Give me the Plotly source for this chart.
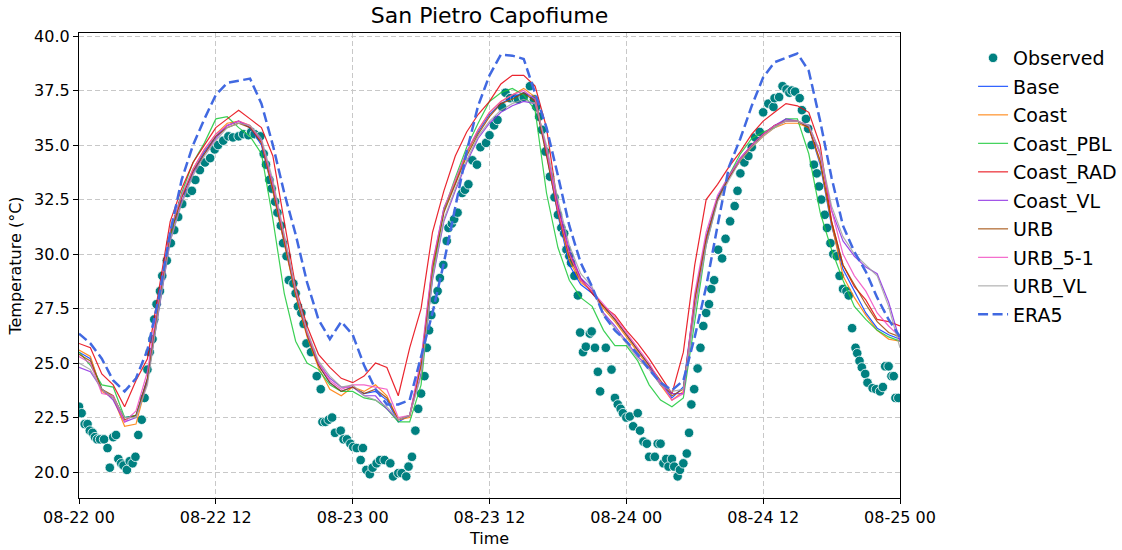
import pandas as pd
import plotly.graph_objects as go

START = pd.Timestamp("2021-08-22 00:00")

# ---------------- Observed (hours since 08-22 00, temperature) ----------------
obs_hours = [0.0, 0.23, 0.5, 0.75, 0.95, 1.2, 1.4, 1.6, 1.85, 2.2, 2.5, 2.7, 3.0, 3.25, 3.45, 3.7, 3.9, 4.2, 4.45, 4.7,
             4.95, 5.2, 5.5, 5.75, 6.0, 6.2, 6.45, 6.6, 6.8, 7.1, 7.3, 7.7, 8.05, 8.35, 8.7, 9.05, 9.5, 9.9, 10.2, 10.6,
             11.05, 11.5, 11.9, 12.2, 12.65, 13.1, 13.5, 14.0, 14.4, 14.85, 15.1, 15.4, 15.9, 16.2, 16.4, 16.7, 16.9,
             17.2, 17.4, 17.7, 17.9, 18.2, 18.4, 18.8, 19.0, 19.2, 19.5, 19.7, 19.95, 20.35, 20.85, 21.2, 21.35, 21.6,
             21.9, 22.2, 22.45, 22.95, 23.2, 23.5, 23.8, 24.05, 24.35, 24.7, 24.9, 25.2, 25.5, 25.75, 26.1, 26.4, 26.8,
             27.3, 27.55, 28.0, 28.3, 28.7, 28.9, 29.2, 29.5, 29.75, 30.0, 30.3, 30.5, 30.7, 30.9, 31.2, 31.45, 31.65,
             31.95, 32.25, 32.4, 32.7, 32.9, 33.2, 33.6, 33.85, 34.15, 34.5, 34.9, 35.2, 35.7, 36.0, 36.4, 36.7, 37.1,
             37.4, 37.8, 38.25, 38.5, 39.0, 39.55, 39.9, 40.1, 40.35, 40.6, 40.9, 41.3, 41.7, 42.0, 42.3, 42.55, 42.75,
             43.0, 43.15, 43.45, 43.75, 43.95, 44.2, 44.45, 44.8, 44.96, 45.25, 45.5, 45.7, 46.2, 46.7, 47.0, 47.25,
             47.5, 47.7, 48.0, 48.3, 48.6, 49.0, 49.2, 49.5, 49.8, 50.0, 50.5, 50.75, 51.0, 51.25, 51.5, 51.7, 52.0,
             52.2, 52.5, 52.7, 53.0, 53.3, 53.5, 53.7, 53.95, 54.25, 54.5, 54.75, 55.0, 55.25, 55.45, 55.7, 56.05,
             56.4, 56.7, 57.1, 57.5, 57.75, 58.0, 58.35, 58.7, 59.0, 59.3, 59.7, 60.0, 60.45, 60.9, 61.0, 61.4, 61.7,
             62.05, 62.3, 62.5, 62.8, 63.2, 63.4, 63.75, 63.95, 64.25, 64.45, 64.7, 64.9, 65.1, 65.4, 65.6, 65.9,
             66.15, 66.45, 66.7, 67.0, 67.3, 67.5, 67.8, 68.1, 68.25, 68.45, 68.65, 68.95, 69.15, 69.6, 69.9, 70.25,
             70.5, 70.7, 71.0, 71.25, 71.45, 71.6, 71.85]
obs_temp = [23.0, 22.7, 22.2, 22.2, 21.9, 21.8, 21.6, 21.5, 21.5, 21.5, 21.1, 20.2, 21.6, 21.7, 20.6, 20.4, 20.3, 20.1,
            20.5, 20.4, 20.7, 21.7, 22.4, 23.4, 24.7, 25.5, 26.1, 27.0, 27.7, 28.3, 29.0, 29.7, 30.5, 31.1, 31.7, 32.3,
            32.8, 32.9, 33.4, 33.85, 34.2, 34.4, 34.8, 35.0, 35.2, 35.4, 35.35, 35.4, 35.5, 35.45, 35.6, 35.5, 35.4,
            34.6, 34.1, 33.4, 33.0, 32.4, 31.9, 31.3, 30.5, 29.9, 28.8, 28.65, 28.2, 27.6, 27.3, 26.8, 25.9, 25.5,
            24.4, 23.8, 22.3, 22.3, 22.4, 22.5, 21.8, 21.9, 21.5, 21.5, 21.3, 21.15, 21.1, 20.55, 21.1, 20.1, 19.9,
            20.2, 20.4, 20.55, 20.55, 20.4, 19.8, 19.95, 19.95, 19.8, 20.25, 20.7, 21.9, 22.9, 23.6, 24.4, 25.7, 26.5,
            27.2, 27.9, 28.3, 28.9, 29.5, 30.6, 31.2, 31.4, 31.6, 31.9, 32.8, 32.95, 33.2, 34.3, 34.1, 34.9, 35.1,
            35.45, 35.9, 36.15, 36.75, 37.4, 37.15, 37.15, 37.1, 37.2, 37.7, 37.1, 36.75, 36.3, 35.7, 34.7, 33.55,
            32.6, 31.8, 31.2, 30.95, 30.2, 29.9, 29.6, 29.0, 28.1, 26.4, 25.5, 25.75, 26.35, 26.45, 25.7, 24.6, 23.7,
            25.7, 24.7, 23.4, 23.1, 22.9, 22.7, 22.5, 22.55, 22.1, 22.7, 21.9, 21.4, 21.3, 20.7, 20.7, 21.3, 21.3,
            20.4, 20.6, 20.25, 20.6, 20.25, 19.8, 20.1, 20.4, 20.85, 21.8, 23.1, 23.8, 24.75, 25.7, 26.7, 27.3, 27.7,
            28.4, 28.8, 30.2, 29.8, 30.7, 31.5, 32.2, 32.9, 33.7, 34.2, 34.5, 34.9, 35.35, 35.6, 36.5, 36.9, 36.75,
            37.15, 37.2, 37.7, 37.55, 37.4, 37.5, 37.45, 37.15, 36.6, 36.2, 35.75, 35.0, 34.1, 33.7, 33.1, 32.5, 31.8,
            31.2, 30.5, 30.0, 29.9, 29.0, 28.4, 28.3, 28.1, 26.6, 25.7, 25.45, 25.1, 24.8, 24.5, 24.1, 23.85, 23.8,
            23.7, 23.9, 24.85, 24.85, 24.4, 24.4, 23.4, 23.4]

# ---------------- Model runs, hourly from 08-22 00 to 08-25 00 ----------------
model_hours = list(range(0, 73))

base = [25.5, 25.2, 23.8, 23.4, 22.5, 22.6, 24.3, 27.9, 30.9, 32.6, 33.8, 34.7, 35.4, 35.9, 36.1, 35.8, 35.0, 32.9,
        30.5, 28.2, 26.3, 24.9, 24.1, 23.7, 23.9, 23.6, 23.7, 23.3, 22.3, 22.6, 25.0, 29.5, 32.1, 33.25, 34.7, 35.6,
        36.4, 36.9, 37.2, 37.4, 37.15, 34.6, 31.8, 29.5, 28.6, 28.2, 27.6, 27.0, 26.3, 25.6, 24.9, 24.1, 23.4, 23.9,
        28.0, 30.8, 32.6, 33.6, 34.4, 35.0, 35.5, 35.9, 36.1, 36.1, 35.8, 34.1, 31.3, 29.3, 28.3, 27.3, 26.6, 26.3, 26.1]
coast = [25.6, 25.3, 23.7, 23.4, 22.1, 22.2, 24.2, 27.8, 30.8, 32.6, 33.9, 34.8, 35.5, 36.0, 36.1, 35.9, 35.1, 32.9,
         30.5, 28.1, 26.2, 24.8, 23.8, 23.5, 23.9, 23.7, 24.0, 23.5, 22.4, 22.5, 24.9, 29.4, 32.0, 33.3, 34.6, 35.7,
         36.5, 37.0, 37.3, 37.6, 37.2, 34.7, 31.9, 29.7, 28.7, 28.3, 27.5, 26.9, 26.2, 25.5, 24.8, 24.0, 23.3, 23.7,
         27.9, 30.7, 32.5, 33.5, 34.3, 34.9, 35.4, 35.8, 36.0, 36.0, 35.8, 34.2, 31.4, 29.0, 28.0, 27.2, 26.5, 26.1, 26.0]
coast_pbl = [25.5, 24.9, 24.0, 23.9, 22.5, 22.6, 24.2, 27.6, 30.8, 32.8, 34.2, 35.1, 36.2, 36.3, 35.8, 35.4, 34.6,
             31.6, 28.2, 26.0, 25.0, 24.7, 24.0, 23.7, 23.7, 23.4, 23.3, 22.9, 22.3, 22.3, 24.0, 29.0, 32.0, 33.5,
             34.9, 36.0, 37.0, 37.4, 37.6, 37.3, 36.6, 32.8, 30.3, 28.8, 28.0, 27.6, 26.5, 25.8, 25.8, 25.1, 24.0,
             23.3, 23.0, 23.4, 27.0, 30.4, 32.5, 33.6, 34.6, 35.3, 35.6, 35.8, 36.2, 36.2, 34.6, 31.9, 30.2, 28.8,
             27.6, 27.0, 26.5, 26.2, 26.0]
coast_rad = [25.9, 25.7, 24.5, 24.0, 23.0, 24.2, 25.2, 28.4, 31.5, 33.0, 34.2, 35.0, 35.8, 36.2, 36.6, 36.2, 35.8,
             34.5, 31.5, 28.5, 26.7, 25.4, 24.8, 24.3, 24.1, 24.4, 25.0, 24.8, 23.5, 25.7, 27.5, 31.0, 32.9, 34.5,
             35.6, 36.4, 37.0, 37.8, 38.2, 38.2, 37.7, 35.8, 32.2, 30.0, 28.9, 28.2, 27.6, 27.2, 26.5, 25.9, 25.2,
             24.4, 23.6, 25.5, 29.5, 32.5, 33.2, 34.0, 34.7, 35.5, 36.1, 36.5, 36.9, 36.8, 36.5, 35.0, 31.5, 29.5,
             28.5, 27.9, 27.0, 26.9, 26.7]
coast_vl = [24.8, 24.6, 23.8, 23.3, 22.3, 22.5, 24.2, 27.5, 30.6, 32.4, 33.7, 34.6, 35.3, 35.9, 36.1, 35.8, 35.2,
            33.2, 30.7, 28.3, 26.4, 25.0, 24.3, 23.9, 23.9, 23.5, 23.5, 22.9, 22.4, 22.6, 24.5, 28.8, 31.5, 32.9,
            34.2, 35.3, 36.0, 36.5, 36.8, 37.0, 36.9, 34.8, 32.3, 30.2, 28.9, 28.4, 27.3, 26.7, 26.0, 25.3, 24.8,
            24.0, 23.6, 23.6, 27.5, 30.5, 32.5, 33.5, 34.4, 35.0, 35.5, 35.9, 36.2, 36.1, 35.9, 34.6, 32.0, 30.6,
            29.9, 29.4, 29.1, 27.8, 26.0]
urb = [25.4, 25.1, 23.8, 23.5, 22.4, 22.6, 24.3, 27.8, 30.9, 32.6, 33.8, 34.6, 35.4, 35.8, 36.0, 35.8, 35.1, 33.0,
       30.6, 28.2, 26.3, 24.9, 24.1, 23.7, 23.9, 23.6, 23.8, 23.4, 22.4, 22.6, 24.9, 29.3, 31.9, 33.2, 34.5, 35.5,
       36.3, 36.9, 37.1, 37.4, 37.0, 34.5, 31.9, 29.9, 28.8, 28.3, 27.6, 27.0, 26.3, 25.6, 24.9, 24.2, 23.5, 23.8,
       27.9, 30.7, 32.5, 33.5, 34.3, 35.0, 35.5, 35.9, 36.1, 36.1, 35.8, 34.3, 31.5, 29.5, 28.6, 27.7, 26.9, 26.4, 26.2]
urb_5_1 = [25.3, 25.0, 23.6, 23.5, 22.3, 22.8, 24.6, 28.0, 31.1, 32.7, 33.9, 34.8, 35.5, 35.9, 36.1, 35.9, 35.2,
           33.2, 30.8, 28.3, 26.4, 25.0, 24.2, 23.8, 24.0, 24.0, 23.9, 23.8, 22.5, 22.6, 25.2, 29.6, 32.1, 33.4,
           34.7, 35.7, 36.5, 37.0, 37.3, 37.5, 37.1, 34.8, 32.0, 30.0, 28.8, 28.3, 27.7, 27.1, 26.4, 25.7, 25.0,
           24.1, 23.3, 23.6, 28.2, 31.0, 32.7, 33.6, 34.4, 35.0, 35.5, 35.9, 36.1, 36.1, 35.9, 34.6, 32.0, 30.0,
           29.0, 28.3, 27.3, 26.7, 26.2]
urb_vl = [25.0, 24.7, 23.8, 23.4, 22.5, 22.5, 24.0, 27.5, 30.6, 32.3, 33.6, 34.5, 35.2, 35.8, 36.0, 35.9, 35.3,
          33.4, 30.9, 28.4, 26.5, 25.1, 24.4, 23.9, 24.0, 23.5, 23.3, 23.0, 22.4, 22.6, 24.4, 28.9, 31.6, 33.0,
          34.3, 35.4, 36.1, 36.6, 36.9, 37.1, 36.9, 35.0, 32.5, 30.4, 29.1, 28.5, 27.2, 26.6, 25.9, 25.2, 24.7,
          24.0, 23.7, 23.8, 27.4, 30.4, 32.4, 33.4, 34.3, 34.9, 35.4, 35.8, 36.1, 36.1, 35.9, 34.7, 32.2, 30.8,
          30.0, 29.5, 29.0, 27.6, 25.7]
era5 = [26.35, 25.9, 25.2, 24.2, 23.7, 24.3, 25.6, 28.0, 31.0, 33.4, 35.0, 36.2, 37.3, 37.85, 37.95, 38.05, 36.9,
        35.0, 32.8, 30.9, 28.7, 27.0, 26.1, 26.9, 26.3, 24.9, 23.8, 23.1, 23.1, 23.3, 25.3, 27.3, 29.6, 32.2, 34.7,
        36.8, 38.2, 39.15, 39.1, 38.95, 37.4, 35.8, 33.6, 31.3, 29.6, 28.5, 27.2, 26.5, 26.0, 25.4, 24.7, 24.1,
        23.75, 24.2, 26.2, 28.5, 31.3, 34.0, 35.3, 36.8, 38.1, 38.8, 39.0, 39.2, 38.4, 36.1, 33.5, 31.3, 30.1, 29.2,
        28.0, 27.0, 26.2]

y_ticks = [20.0, 22.5, 25.0, 27.5, 30.0, 32.5, 35.0, 37.5, 40.0]

model_names = ["Base", "Coast", "Coast_PBL", "Coast_RAD", "Coast_VL", "URB", "URB_5-1", "URB_VL"]
model_series = [base, coast, coast_pbl, coast_rad, coast_vl, urb, urb_5_1, urb_vl]
model_colors = ["#023eff", "#ff7c00", "#1ac938", "#e8000b", "#8b2be2", "#9f4800", "#f14cc1", "#a3a3a3"]

obs_t = [START + pd.Timedelta(hours=h) for h in obs_hours]
mod_t = [START + pd.Timedelta(hours=h) for h in model_hours]

FONT = "DejaVu Sans"
fig = go.Figure()

fig.add_trace(go.Scatter(
    x=obs_t, y=obs_temp, mode="markers", name="Observed",
    marker=dict(color="#008080", size=9.5, line=dict(color="white", width=0.8)),
    legendgroup="g0",
))
for i, (nm, ser, col) in enumerate(zip(model_names, model_series, model_colors)):
    fig.add_trace(go.Scatter(
        x=mod_t, y=ser, mode="lines", name=nm,
        line=dict(color=col, width=1.2), opacity=0.85,
        legendgroup=f"g{i+1}",
    ))
fig.add_trace(go.Scatter(
    x=mod_t, y=era5, mode="lines", name="ERA5",
    line=dict(color="#4169e1", width=2.5, dash="10px,4.5px"),
    legendgroup="g9",
))

grid = dict(showgrid=True, gridcolor="#c8c8c8", gridwidth=1, griddash="5px,3px")
fig.update_layout(
    width=1122, height=550,
    margin=dict(l=79, r=222, t=33, b=52, autoexpand=False),
    paper_bgcolor="white", plot_bgcolor="white",
    font=dict(family=FONT, size=16, color="black"),
    title=dict(text="San Pietro Capofiume", x=(79 + 900) / 2 / 1122, xanchor="center",
               y=1 - 15 / 550, yanchor="middle", font=dict(size=22, family=FONT)),
    legend=dict(x=1.089, y=1.0 - 6 / 465, xanchor="left", yanchor="top", font=dict(size=19, family=FONT),
                traceorder="grouped", tracegroupgap=0.8, bgcolor="rgba(0,0,0,0)"),
    xaxis=dict(
        range=[START, START + pd.Timedelta(hours=72)],
        tick0=START, dtick=12 * 3600 * 1000, tickformat="%m-%d %H",
        showline=True, mirror=True, linecolor="black", linewidth=1.2,
        ticks="outside", ticklen=5, tickwidth=1.2, tickcolor="black",
        title=dict(text="Time", standoff=6, font=dict(size=16)),
        zeroline=False, automargin=False, **grid,
    ),
    yaxis=dict(
        range=[18.81, 40.14], tickvals=y_ticks, ticktext=[f"{v:.1f}" for v in y_ticks],
        showline=True, mirror=True, linecolor="black", linewidth=1.2,
        ticks="outside", ticklen=5, tickwidth=1.2, tickcolor="black",
        title=dict(text="Temperature (°C)", standoff=8, font=dict(size=16)),
        zeroline=False, automargin=False, **grid,
    ),
)

fig.write_html("out.html")
